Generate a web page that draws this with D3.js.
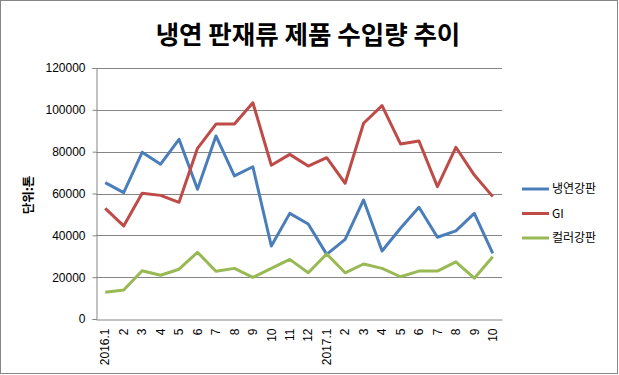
<!DOCTYPE html>
<html>
<head>
<meta charset="utf-8">
<script src="https://cdn.jsdelivr.net/npm/d3@7"></script>
<style>
  body { margin: 0; background: #fff; }
  text { font-family: "Liberation Sans", Arial, sans-serif; }
  .kr { font-family: "Noto Sans CJK KR", sans-serif; }
</style>
</head>
<body>
<div id="chart"></div>
<script>
const width = 619;
const height = 375;

const months = ["2016.1", "2", "3", "4", "5", "6", "7", "8", "9", "10", "11", "12",
  "2017.1", "2", "3", "4", "5", "6", "7", "8", "9", "10"];
const coldRolled = [65200, 60400, 79700, 74000, 85900, 62000, 87500, 68400, 72800, 34900, 50500,
  45400, 30900, 38100, 56900, 32500, 43400, 53400, 39100, 42100, 50500, 31400];
const gi = [52900, 44500, 60100, 59100, 55800, 81600, 93200, 93200, 103400, 73500, 78700,
  73100, 77100, 64900, 93600, 102000, 83700, 85100, 63300, 82100, 68800, 58500];
const color = [12800, 13900, 23100, 20900, 23800, 31900, 22800, 24200, 19900, 24200, 28500,
  22100, 31100, 22100, 26300, 24200, 20200, 22900, 22900, 27300, 19500, 29800];
const seriesNames = ["냉연강판", "GI", "컬러강판"];
const seriesColors = ["#4a7ebb", "#be4b48", "#98b954"];
const yTicks = [0, 20000, 40000, 60000, 80000, 100000, 120000];

const series = [coldRolled, gi, color];
const margin = { top: 68, right: 117, bottom: 56, left: 96 };

const svg = d3.select("#chart").append("svg")
  .attr("width", width)
  .attr("height", height);

svg.append("rect")
  .attr("x", 0.5).attr("y", 0.5)
  .attr("width", width - 2).attr("height", height - 2)
  .attr("fill", "#fff")
  .attr("stroke", "#868686");

const x = d3.scaleBand()
  .domain(d3.range(months.length))
  .range([margin.left, width - margin.right]);

const y = d3.scaleLinear()
  .domain([0, 120000])
  .range([height - margin.bottom, margin.top]);

// gridlines
svg.append("g")
  .selectAll("line")
  .data(yTicks.slice(1))
  .join("line")
  .attr("x1", margin.left).attr("x2", width - margin.right)
  .attr("y1", d => Math.round(y(d)) + 0.5).attr("y2", d => Math.round(y(d)) + 0.5)
  .attr("stroke", "#868686");

// y axis
const yAxis = svg.append("g")
  .attr("transform", `translate(${margin.left + 0.5},0)`)
  .call(d3.axisLeft(y).tickValues(yTicks).tickSize(4).tickPadding(7).tickFormat(d3.format("d")));
yAxis.select(".domain").attr("stroke", "#868686");
yAxis.selectAll(".tick line").attr("stroke", "#868686");
yAxis.selectAll(".tick text").attr("font-size", 12).attr("fill", "#000")
  .attr("font-family", "Liberation Sans, Arial, sans-serif");

// x axis
const xAxis = svg.append("g")
  .attr("transform", `translate(0,${height - margin.bottom + 0.5})`)
  .call(d3.axisBottom(x).tickSize(0).tickFormat(i => months[i]));
xAxis.select(".domain").attr("stroke", "#868686");
xAxis.selectAll(".tick text")
  .attr("font-size", 12).attr("fill", "#000")
  .attr("font-family", "Liberation Sans, Arial, sans-serif")
  .attr("transform", "rotate(-90)")
  .attr("text-anchor", "end")
  .attr("x", -9).attr("y", 0).attr("dy", "0.35em");

// lines
const line = d3.line()
  .x((d, i) => x(i) + x.bandwidth() / 2)
  .y(d => y(d));

svg.append("g")
  .selectAll("path")
  .data(series)
  .join("path")
  .attr("d", line)
  .attr("fill", "none")
  .attr("stroke", (d, i) => seriesColors[i])
  .attr("stroke-width", 3)
  .attr("stroke-linejoin", "round");

// title
svg.append("text")
  .attr("class", "kr")
  .attr("x", 308).attr("y", 44)
  .attr("text-anchor", "middle")
  .attr("font-size", 25.5)
  .attr("font-weight", "bold")
  .text("냉연 판재류 제품 수입량 추이");

// y title
svg.append("text")
  .attr("class", "kr")
  .attr("transform", "translate(29,195) rotate(-90)")
  .attr("text-anchor", "middle")
  .attr("dy", "0.35em")
  .attr("font-size", 12.5)
  .attr("font-weight", "bold")
  .text("단위:톤");

// legend
const legend = svg.append("g")
  .selectAll("g")
  .data(seriesNames)
  .join("g")
  .attr("transform", (d, i) => `translate(522,${189 + i * 24.5})`);
legend.append("line")
  .attr("x1", 0).attr("x2", 27)
  .attr("stroke", (d, i) => seriesColors[i])
  .attr("stroke-width", 3);
legend.append("text")
  .attr("class", "kr")
  .attr("x", 30).attr("dy", "0.35em")
  .attr("font-size", 12)
  .text(d => d);
</script>
</body>
</html>
